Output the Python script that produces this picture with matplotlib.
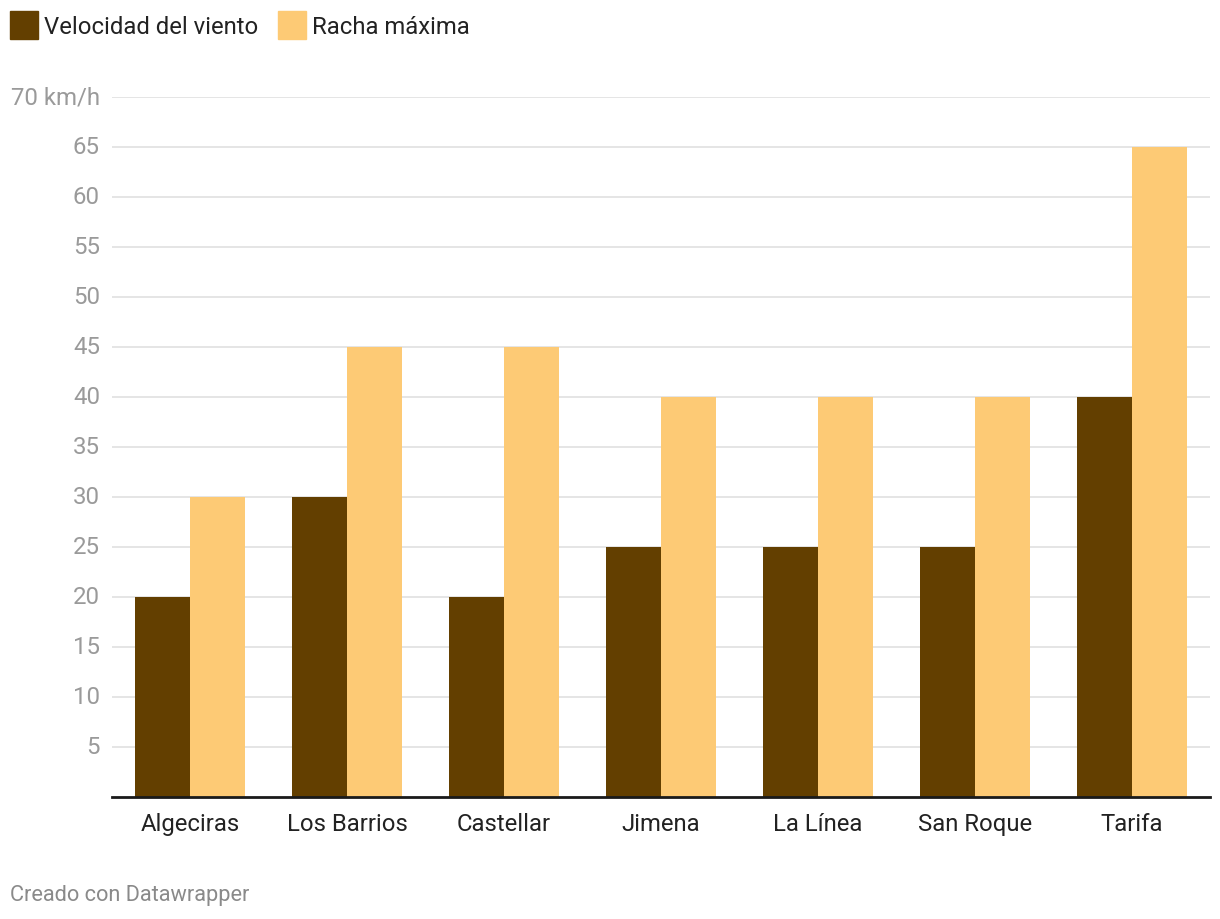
import matplotlib
matplotlib.use("Agg")
import matplotlib.pyplot as plt
import numpy as np
from matplotlib.patches import Rectangle

plt.rcParams['font.family'] = ['Roboto', 'DejaVu Sans']

categories = ["Algeciras", "Los Barrios", "Castellar", "Jimena", "La Línea", "San Roque", "Tarifa"]
velocidad = [20, 30, 20, 25, 25, 25, 40]
racha = [30, 45, 45, 40, 40, 40, 65]
series_names = ["Velocidad del viento", "Racha máxima"]
yticks = [5, 10, 15, 20, 25, 30, 35, 40, 45, 50, 55, 60, 65, 70]
ytick_labels = ["5", "10", "15", "20", "25", "30", "35", "40", "45", "50", "55", "60", "65", "70 km/h"]
footer = "Creado con Datawrapper"

c_dark = "#633f00"
c_light = "#fdca75"

W, H = 1220, 920
fig = plt.figure(figsize=(W / 100, H / 100), dpi=100)
ax = fig.add_axes([112 / W, 1 - 798 / H, (1210 - 112) / W, (798 - 98) / H])

x = np.arange(len(categories))
bw = 55 / 157
ax.bar(x - bw / 2, velocidad, width=bw, color=c_dark, zorder=3)
ax.bar(x + bw / 2, racha, width=bw, color=c_light, zorder=3)

ax.set_xlim(-0.497, len(categories) - 1 + 0.497)
ax.set_ylim(0, 70)
for s in ["top", "right", "left"]:
    ax.spines[s].set_visible(False)
ax.spines["bottom"].set_color("#1a1a1a")
ax.spines["bottom"].set_linewidth(2)
ax.spines["bottom"].set_zorder(4)

for t in yticks:
    ax.axhline(t, color="#e0e0e0", lw=1.2, zorder=1)
ax.set_yticks([])
for t, lab in zip(yticks, ytick_labels):
    fig.text(100 / W, 1 - (798 - t * 10) / H, lab, ha="right", va="center",
             fontsize=17.3, color="#9a9a9a")

ax.set_xticks(x)
ax.set_xticklabels(categories, fontsize=17.2, color="#222222")
ax.tick_params(axis="x", length=0, pad=11)

# legend
fig.patches.append(Rectangle((10 / W, 1 - 40 / H), 28 / W, 28 / H, transform=fig.transFigure,
                             color=c_dark, figure=fig))
fig.text(44 / W, 1 - 28 / H, series_names[0], ha="left", va="center", fontsize=17.2, color="#222222")
fig.patches.append(Rectangle((278 / W, 1 - 40 / H), 28 / W, 28 / H, transform=fig.transFigure,
                             color=c_light, figure=fig))
fig.text(312 / W, 1 - 28 / H, series_names[1], ha="left", va="center", fontsize=17.2, color="#222222")

fig.text(10 / W, 1 - 896 / H, footer, ha="left", va="center", fontsize=15.7, color="#8a8a8a")

fig.savefig("out.png", dpi=100)
